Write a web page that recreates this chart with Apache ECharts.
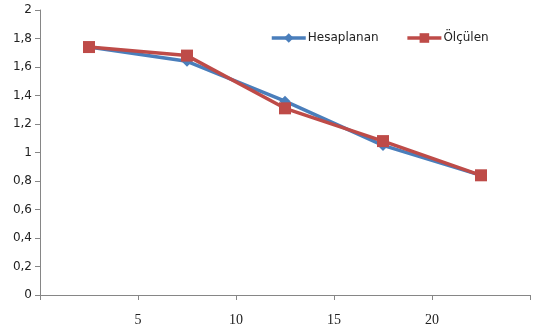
<!DOCTYPE html>
<html>
<head>
<meta charset="utf-8">
<script src="https://cdn.jsdelivr.net/npm/echarts@6/dist/echarts.min.js"></script>
<style>
  html, body { margin: 0; padding: 0; background: #fff; }
  #chart { width: 533px; height: 333px; }
</style>
</head>
<body>
<div id="chart"></div>
<script>
// Positions along the x axis and the two measured/computed series
const xValues = [2.5, 7.5, 12.5, 17.5, 22.5];
const hesaplanan = [1.74, 1.64, 1.36, 1.05, 0.84];
const olculen = [1.74, 1.68, 1.31, 1.08, 0.84];
const seriesNames = ['Hesaplanan', 'Ölçülen'];
const xTicks = [5, 10, 15, 20];

const pairs = (xs, ys) => xs.map((x, i) => [x, ys[i]]);

const chart = echarts.init(document.getElementById('chart'));
chart.setOption({
  animation: false,
  backgroundColor: '#ffffff',
  grid: { left: 40, right: 1, top: 10, bottom: 38, containLabel: false },
  legend: {
    top: 27,
    left: 265,
    itemWidth: 34,
    itemHeight: 12,
    itemGap: 27,
    lineStyle: { width: 3.5 },
    textStyle: { fontFamily: 'DejaVu Sans', fontSize: 12, color: '#222', padding: [0, 0, 0, -3] },
    data: seriesNames
  },
  xAxis: {
    type: 'value',
    min: 0,
    max: 25,
    interval: 5,
    splitLine: { show: false },
    axisLine: { lineStyle: { color: '#868686', width: 1 } },
    axisTick: { show: true, length: 5, lineStyle: { color: '#868686' } },
    axisLabel: {
      margin: 18,
      fontFamily: 'Liberation Serif',
      fontSize: 14,
      color: '#222',
      formatter: v => (xTicks.indexOf(v) >= 0 ? String(v) : '')
    }
  },
  yAxis: {
    type: 'value',
    min: 0,
    max: 2,
    interval: 0.2,
    splitLine: { show: false },
    axisLine: { show: true, lineStyle: { color: '#868686', width: 1 } },
    axisTick: { show: true, length: 5, lineStyle: { color: '#868686' } },
    axisLabel: {
      margin: 8,
      fontFamily: 'DejaVu Sans',
      fontSize: 12,
      color: '#222',
      formatter: v => String(+v.toFixed(1)).replace('.', ',')
    }
  },
  series: [
    {
      name: seriesNames[0],
      type: 'line',
      data: pairs(xValues, hesaplanan),
      symbol: 'diamond',
      symbolSize: 11,
      lineStyle: { color: '#4a7ebb', width: 3.5 },
      itemStyle: { color: '#4a7ebb' }
    },
    {
      name: seriesNames[1],
      type: 'line',
      data: pairs(xValues, olculen),
      symbol: 'rect',
      symbolSize: 12,
      lineStyle: { color: '#be4b48', width: 3.5 },
      itemStyle: { color: '#be4b48' }
    }
  ]
});
</script>
</body>
</html>
